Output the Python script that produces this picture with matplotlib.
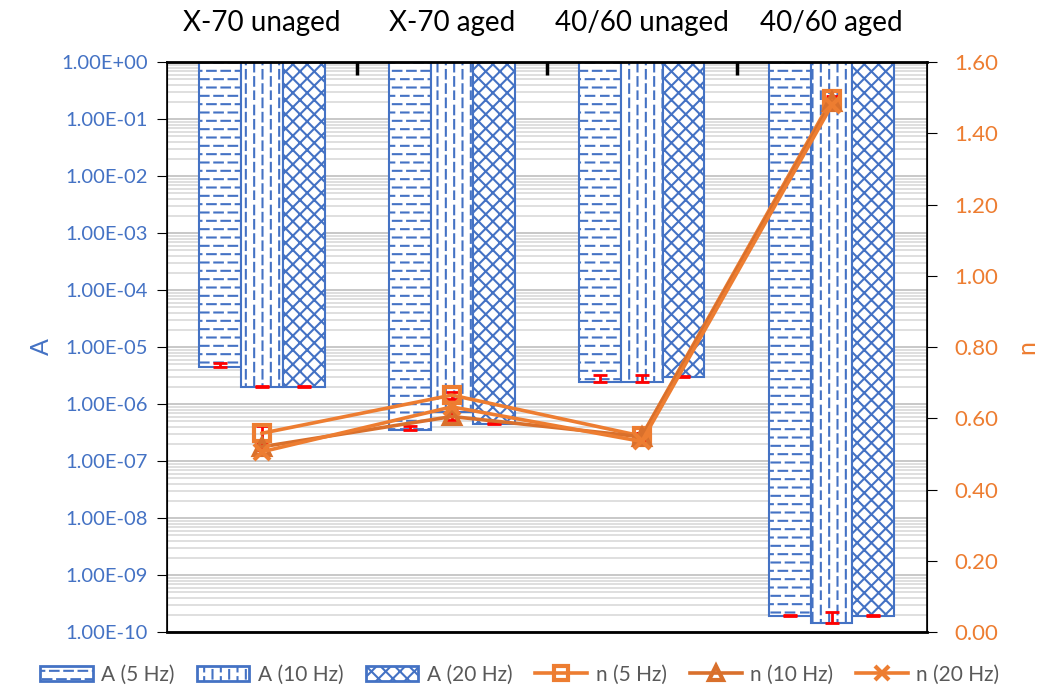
import numpy as np
import matplotlib.pyplot as plt
import matplotlib.hatch as mhatch
from matplotlib.path import Path
from matplotlib.patches import Patch
from matplotlib.lines import Line2D
from matplotlib.ticker import FixedLocator, FuncFormatter, LogLocator, NullFormatter

plt.rcParams['font.family'] = ['Lato', 'DejaVu Sans']
plt.rcParams['hatch.linewidth'] = 1.5

categories = ['X-70 unaged', 'X-70 aged', '40/60 unaged', '40/60 aged']

a_5hz = [4.5e-6, 3.5e-7, 2.4e-6, 1.9e-10]
a_10hz = [2.0e-6, 7.2e-7, 2.4e-6, 1.44e-10]
a_20hz = [2.0e-6, 4.5e-7, 2.95e-6, 1.9e-10]
a_5hz_err = [0.7e-6, 0.6e-7, 0.8e-6, 0.05e-10]
a_10hz_err = [0.1e-6, 0.1e-7, 0.8e-6, 0.8e-10]
a_20hz_err = [0.1e-6, 0.1e-7, 0.1e-6, 0.05e-10]

n_5hz = [0.558, 0.665, 0.550, 1.495]
n_10hz = [0.520, 0.605, 0.548, 1.488]
n_20hz = [0.506, 0.632, 0.535, 1.478]
n_5hz_err = [0.02, 0.01, 0.01, 0.01]
n_10hz_err = [0.01, 0.01, 0.01, 0.01]
n_20hz_err = [0.01, 0.01, 0.01, 0.01]

blue = '#4472C4'
orange = '#ED7D31'
orange_dark = '#D9702C'


# Excel-like dashed hatches: '-' gives staggered horizontal dashes, '|' vertical ones
class DashedHatch(mhatch.HatchPatternBase):
    char = '-'
    rows, dashes, frac = 12, 7, 0.6

    def __init__(self, hatch, density):
        self.segs = self.segments() if self.char in hatch else []
        self.num_vertices = 2 * len(self.segs)

    def segments(self):
        segs = []
        for i in range(self.rows):
            c = (i + 0.5) / self.rows
            for j in range(self.dashes):
                a = (j + 0.5 * (i % 2)) / self.dashes
                b = a + self.frac / self.dashes
                if b > 1:
                    segs.append((a, 1.0, c))
                    segs.append((0.0, b - 1, c))
                else:
                    segs.append((a, b, c))
        return segs

    def point(self, a, c):
        return a, c

    def set_vertices_and_codes(self, vertices, codes):
        for k, (a, b, c) in enumerate(self.segs):
            vertices[2 * k] = self.point(a, c)
            vertices[2 * k + 1] = self.point(b, c)
        codes[0::2] = Path.MOVETO
        codes[1::2] = Path.LINETO


class DashedVHatch(DashedHatch):
    char = '|'

    def point(self, a, c):
        return c, a


mhatch._hatch_types = [
    DashedHatch,
    DashedVHatch,
    lambda h, d: mhatch.NorthEastHatch(h, 14),
    lambda h, d: mhatch.SouthEastHatch(h, 14),
]

hatches = ['-', '|', 'x']

fig = plt.figure(figsize=(10.4, 7), dpi=100)
ax = fig.add_axes([0.1606, 0.0971, 0.7303, 0.8143])

x = np.arange(len(categories))
w = 0.22
series = [(a_5hz, a_5hz_err, -w), (a_10hz, a_10hz_err, 0), (a_20hz, a_20hz_err, w)]
for (vals, errs, off), hatch in zip(series, hatches):
    vals = np.array(vals)
    ax.bar(x + off, 1 - vals, bottom=vals, width=w, facecolor='white', edgecolor=blue,
           linewidth=1.5, hatch=hatch, zorder=2)
    ax.errorbar(x + off, vals, yerr=[np.zeros(len(vals)), errs], fmt='none',
                ecolor='red', elinewidth=2, capsize=5, capthick=2, zorder=3)

ax.set_yscale('log')
ax.set_ylim(1e-10, 1)
ax.set_xlim(-0.5, 3.5)
ax.yaxis.set_major_locator(LogLocator(base=10, numticks=20))
ax.yaxis.set_minor_locator(LogLocator(base=10, subs=np.arange(2, 10), numticks=100))
ax.yaxis.set_minor_formatter(NullFormatter())
ax.yaxis.set_major_formatter(FuncFormatter(lambda v, p: f'{v:.2E}'))
ax.grid(which='major', axis='y', color='#BFBFBF', linewidth=1.2)
ax.grid(which='minor', axis='y', color='#D9D9D9', linewidth=1.2)
ax.set_axisbelow(True)
ax.tick_params(axis='y', which='major', labelcolor=blue, color='black', labelsize=14.5,
               length=7, pad=7)
ax.tick_params(axis='y', which='minor', length=0)
ax.set_ylabel('A', color=blue, fontsize=18, labelpad=6)

ax.xaxis.tick_top()
ax.set_xticks(x)
ax.set_xticklabels(categories, fontsize=20)
ax.xaxis.set_minor_locator(FixedLocator([0.5, 1.5, 2.5]))
ax.tick_params(axis='x', which='major', length=0, pad=19)
ax.tick_params(axis='x', which='minor', length=0, top=False, bottom=False)
for s in ['top', 'bottom']:
    ax.spines[s].set_linewidth(2)
for s in ['left', 'right']:
    ax.spines[s].set_linewidth(1.2)

ax2 = ax.twinx()
ax2.set_ylim(0, 1.6)
ax2.set_yticks(np.arange(0, 1.61, 0.2))
ax2.yaxis.set_major_formatter(FuncFormatter(lambda v, p: f'{v:.2f}'))
ax2.tick_params(axis='y', labelcolor=orange, color='black', labelsize=16, length=7, pad=13)
ax2.set_ylabel('n', color=orange, fontsize=18, labelpad=12)
# group separator ticks drawn on the twin so the grid does not cover them
ax2.xaxis.set_visible(True)
ax2.tick_params(axis='x', which='major', length=0, top=False, bottom=False,
                labeltop=False, labelbottom=False)
ax2.tick_params(axis='x', which='minor', direction='in', length=9, width=2.5,
                top=True, bottom=False, color='black')

line_sets = [(n_5hz, n_5hz_err, 's', orange),
             (n_10hz, n_10hz_err, '^', orange_dark),
             (n_20hz, n_20hz_err, 'x', orange)]
for vals, errs, mk, col in line_sets:
    ax2.errorbar(x, vals, yerr=errs, fmt='none', ecolor='red', elinewidth=2,
                 capsize=4, capthick=2, zorder=4)
    ax2.plot(x, vals, color=col, linewidth=2.6, marker=mk, markersize=12,
             markerfacecolor='none', markeredgecolor=col, markeredgewidth=3, zorder=5)

handles = [Patch(facecolor='white', edgecolor=blue, linewidth=2, hatch=h) for h in hatches]
handles += [Line2D([], [], color=col, linewidth=2.6, marker=mk, markersize=10,
                   markerfacecolor='none', markeredgewidth=3)
            for _, _, mk, col in line_sets]
labels = ['A (5 Hz)', 'A (10 Hz)', 'A (20 Hz)', 'n (5 Hz)', 'n (10 Hz)', 'n (20 Hz)']
leg = fig.legend(handles, labels, loc='lower center', bbox_to_anchor=(0.5, -0.005), ncol=6,
                 frameon=False, fontsize=15, handlelength=2.5, handletextpad=0.4,
                 columnspacing=1.1)
for t in leg.get_texts():
    t.set_color('#595959')

fig.savefig('out.png', dpi=100)
